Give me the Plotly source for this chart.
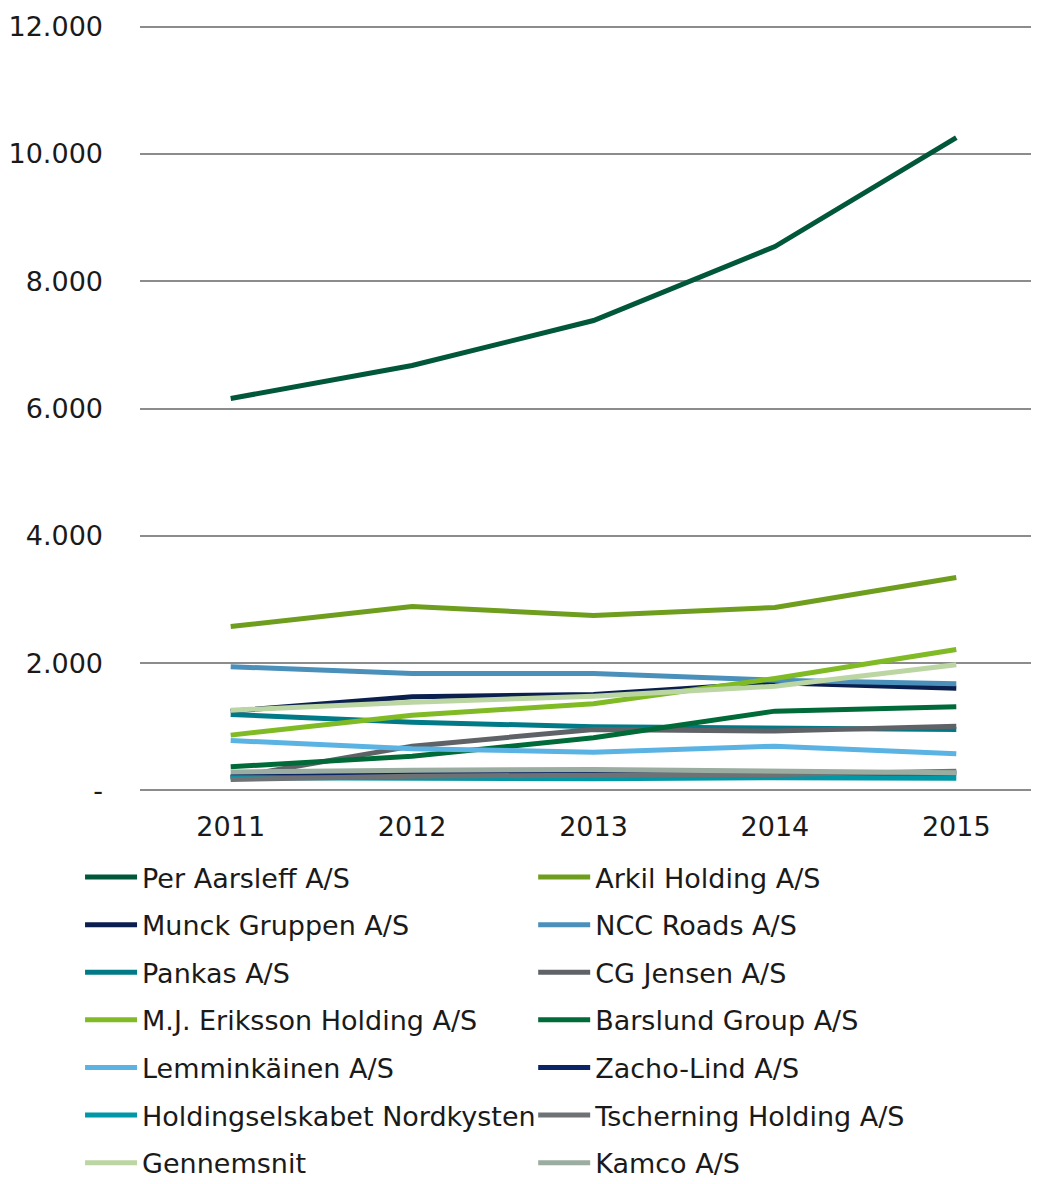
import plotly.graph_objects as go

years = ['2011', '2012', '2013', '2014', '2015']

per_aarsleff = [6157, 6675, 7382, 8544, 10256]
arkil = [2576, 2890, 2749, 2874, 3345]
munck = [1246, 1471, 1508, 1691, 1607]
ncc_roads = [1943, 1838, 1838, 1733, 1676]
pankas = [1194, 1073, 1000, 974, 958]
cg_jensen = [200, 696, 958, 932, 1010]
mj_eriksson = [869, 1183, 1361, 1759, 2215]
barslund = [372, 539, 828, 1246, 1314]
lemminkainen = [785, 654, 602, 696, 576]
zacho_lind = [220, 250, 260, 260, 270]
nordkysten = [200, 183, 183, 200, 190]
tscherning = [173, 225, 240, 250, 300]
gennemsnit = [1261, 1387, 1481, 1638, 1974]
kamco = [288, 319, 330, 300, 277]

series = [
    ('Per Aarsleff A/S', per_aarsleff, '#00573a'),
    ('Arkil Holding A/S', arkil, '#6f9e1e'),
    ('Munck Gruppen A/S', munck, '#0b1f4f'),
    ('NCC Roads A/S', ncc_roads, '#4a90bb'),
    ('Pankas A/S', pankas, '#007a86'),
    ('CG Jensen A/S', cg_jensen, '#5f6368'),
    ('M.J. Eriksson Holding A/S', mj_eriksson, '#80bb26'),
    ('Barslund Group A/S', barslund, '#006b38'),
    ('Lemminkäinen A/S', lemminkainen, '#5bb3e3'),
    ('Zacho-Lind A/S', zacho_lind, '#0b2466'),
    ('Holdingselskabet Nordkysten', nordkysten, '#0097a7'),
    ('Tscherning Holding A/S', tscherning, '#6e7275'),
    ('Gennemsnit', gennemsnit, '#bcd6a3'),
    ('Kamco A/S', kamco, '#9aada0'),
]

fig = go.Figure()
for i, (name, vals, col) in enumerate(series):
    fig.add_trace(go.Scatter(
        x=years, y=vals, name=name, mode='lines',
        line=dict(color=col, width=5),
        legend='legend' if i % 2 == 0 else 'legend2',
        legendgroup=name,
    ))

font = dict(family='DejaVu Sans', size=27, color='#1a1a1a')
# legend kept just inside the bottom edge so the last row is not clipped
leg = dict(orientation='v', yanchor='top', y=-0.078, xanchor='left',
           bgcolor='rgba(0,0,0,0)', tracegroupgap=9.5, font=font,
           itemwidth=52, traceorder='grouped')

# page body adds an 8px offset, margins are compensated for that
fig.update_layout(
    width=1039, height=1184,
    margin=dict(l=132, r=0, t=16, b=399, autoexpand=False),
    plot_bgcolor='white', paper_bgcolor='white',
    font=font,
    legend=dict(leg, x=-0.0661),
    legend2=dict(leg, x=0.4335),
    xaxis=dict(
        type='category', range=[-0.5, 4.5], showgrid=False,
        showline=False, zeroline=False, ticks='', ticklabelstandoff=15,
    ),
    yaxis=dict(
        range=[-40, 12040], tickvals=[0, 2000, 4000, 6000, 8000, 10000, 12000],
        ticktext=['-', '2.000', '4.000', '6.000', '8.000', '10.000', '12.000'],
        showgrid=True, gridcolor='#8c8c8c', gridwidth=2,
        zeroline=False, showline=False, ticks='', ticklabelstandoff=36,
    ),
)

fig.write_html('out.html')
